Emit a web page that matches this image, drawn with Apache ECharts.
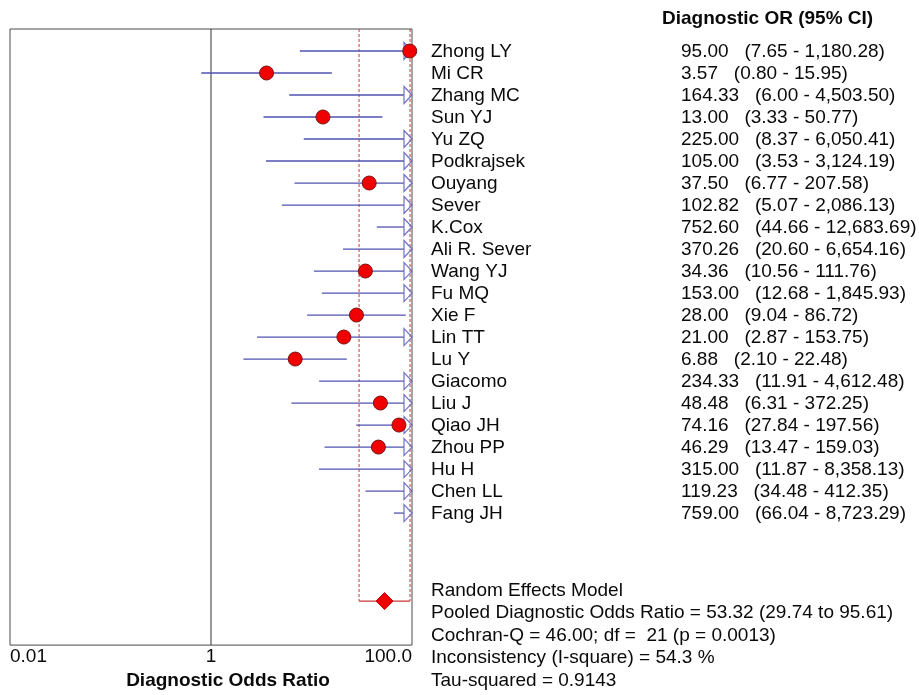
<!DOCTYPE html>
<html>
<head>
<meta charset="utf-8">
<script src="https://cdn.jsdelivr.net/npm/echarts@6/dist/echarts.min.js"></script>
<style>
  html, body { margin: 0; padding: 0; background: #fff; }
  #chart { width: 919px; height: 695px; }
</style>
</head>
<body>
<div id="chart"></div>
<script>
// Study-level diagnostic odds ratios with 95% confidence limits
const studies = ['Zhong LY', 'Mi CR', 'Zhang MC', 'Sun YJ', 'Yu ZQ', 'Podkrajsek', 'Ouyang', 'Sever',
  'K.Cox', 'Ali R. Sever', 'Wang YJ', 'Fu MQ', 'Xie F', 'Lin TT', 'Lu Y', 'Giacomo', 'Liu J',
  'Qiao JH', 'Zhou PP', 'Hu H', 'Chen LL', 'Fang JH'];
const dor = [95.00, 3.57, 164.33, 13.00, 225.00, 105.00, 37.50, 102.82, 752.60, 370.26, 34.36,
  153.00, 28.00, 21.00, 6.88, 234.33, 48.48, 74.16, 46.29, 315.00, 119.23, 759.00];
const ciLow = [7.65, 0.80, 6.00, 3.33, 8.37, 3.53, 6.77, 5.07, 44.66, 20.60, 10.56, 12.68, 9.04,
  2.87, 2.10, 11.91, 6.31, 27.84, 13.47, 11.87, 34.48, 66.04];
const ciHigh = [1180.28, 15.95, 4503.50, 50.77, 6050.41, 3124.19, 207.58, 2086.13, 12683.69,
  6654.16, 111.76, 1845.93, 86.72, 153.75, 22.48, 4612.48, 372.25, 197.56, 159.03, 8358.13,
  412.35, 8723.29];

// Random effects pooled estimate: [OR, lower, upper]
const pooledOR = [53.32, 29.74, 95.61];

// Axis range and labelled ticks
const axisMin = 0.01, axisMax = 100;
const tickValues = [0.01, 1, 100];
const tickLabels = ['0.01', '1', '100.0'];

// Summary statistics printed under the study list
const summaryLines = [
  'Random Effects Model',
  'Pooled Diagnostic Odds Ratio = 53.32 (29.74 to 95.61)',
  'Cochran-Q = 46.00; df =  21 (p = 0.0013)',
  'Inconsistency (I-square) = 54.3 %',
  'Tau-squared = 0.9143'
];

const FONT = '"Liberation Sans", Arial, sans-serif';
const FS = 19;
const TEXT_COLOR = '#0a0a0a';
const LINE_COLOR = '#5252b2';
const ARROW_COLOR = '#7070c6';
const POOLED_ROW = 26;
const ROW_MAX = 28;

function fmt(v) {
  return v.toLocaleString('en-US', { minimumFractionDigits: 2, maximumFractionDigits: 2 });
}

const studyData = studies.map((s, i) => [i + 1, dor[i], ciLow[i], ciHigh[i]]);

function renderStudy(params, api) {
  const idx = params.dataIndex;
  const row = api.value(0);
  const est = api.value(1);
  const lo = api.value(2);
  const hi = api.value(3);
  const y = api.coord([1, row])[1];
  const xLo = api.coord([Math.max(lo, axisMin), row])[0];
  const xMax = api.coord([axisMax, row])[0];
  const truncated = hi > axisMax;
  const xHi = truncated ? xMax - 8 : api.coord([hi, row])[0];
  const children = [];
  children.push({
    type: 'line',
    shape: { x1: xLo, y1: y, x2: xHi, y2: y },
    style: { stroke: LINE_COLOR, lineWidth: 1.3 }
  });
  if (truncated) {
    children.push({
      type: 'polygon',
      shape: { points: [[xMax - 8, y - 8.5], [xMax, y], [xMax - 8, y + 8.5]] },
      style: { stroke: ARROW_COLOR, fill: 'rgba(255,255,255,0)', lineWidth: 1.2 }
    });
  }
  if (est <= axisMax) {
    const c = api.coord([est, row]);
    children.push({
      type: 'circle',
      shape: { cx: c[0], cy: y, r: 7 },
      style: { fill: '#f00000', stroke: '#7a1414', lineWidth: 1 }
    });
  }
  children.push({
    type: 'text',
    style: { text: studies[idx], x: 431, y: y + 1, fill: TEXT_COLOR, fontSize: FS,
      fontFamily: FONT, verticalAlign: 'middle', align: 'left' }
  });
  children.push({
    type: 'text',
    style: { text: fmt(est) + '   (' + fmt(lo) + ' - ' + fmt(hi) + ')', x: 681, y: y + 1,
      fill: TEXT_COLOR, fontSize: FS, fontFamily: FONT, verticalAlign: 'middle', align: 'left' }
  });
  return { type: 'group', children: children };
}

function renderPooled(params, api) {
  const est = api.value(1), lo = api.value(2), hi = api.value(3);
  const row = api.value(0);
  const top = api.coord([1, 0])[1];
  const y = api.coord([1, row])[1];
  const xLo = api.coord([lo, row])[0];
  const xHi = api.coord([hi, row])[0];
  const xc = api.coord([est, row])[0];
  const dash = { stroke: '#c43a3a', lineWidth: 1, lineDash: [3, 2] };
  return {
    type: 'group',
    children: [
      { type: 'line', shape: { x1: xLo, y1: top, x2: xLo, y2: y }, style: dash },
      { type: 'line', shape: { x1: xHi, y1: top, x2: xHi, y2: y }, style: dash },
      { type: 'line', shape: { x1: xLo, y1: y, x2: xHi, y2: y },
        style: { stroke: '#c43a3a', lineWidth: 1.2 } },
      { type: 'polygon',
        shape: { points: [[xc - 8.5, y], [xc, y - 8.5], [xc + 8.5, y], [xc, y + 8.5]] },
        style: { fill: '#f00000', stroke: '#c00000', lineWidth: 1 } }
    ]
  };
}

function renderRefLine(params, api) {
  const x = api.coord([api.value(0), 0])[0];
  const top = api.coord([1, 0])[1];
  const bottom = api.coord([1, ROW_MAX])[1];
  return { type: 'line', shape: { x1: x, y1: top, x2: x, y2: bottom },
    style: { stroke: '#303030', lineWidth: 1 } };
}

const chart = echarts.init(document.getElementById('chart'), null, { renderer: 'canvas' });
chart.setOption({
  animation: false,
  backgroundColor: '#ffffff',
  title: {
    text: 'Diagnostic OR (95% CI)', left: 662, top: 9, padding: 0,
    textStyle: { fontSize: FS, fontWeight: 'bold', fontFamily: FONT, color: TEXT_COLOR }
  },
  grid: { left: 10, top: 29, width: 402, height: 618, show: true,
    borderColor: '#4a4a4a', borderWidth: 1, backgroundColor: 'transparent' },
  xAxis: {
    type: 'log', logBase: 10, min: axisMin, max: axisMax,
    name: 'Diagnostic Odds Ratio', nameLocation: 'middle', nameGap: 24,
    nameTextStyle: { fontSize: FS, fontWeight: 'bold', fontFamily: FONT, color: TEXT_COLOR,
      padding: [0, 0, 0, 34] },
    axisLine: { show: false }, axisTick: { show: false }, splitLine: { show: false },
    axisLabel: {
      margin: 2, fontSize: FS, fontFamily: FONT, color: TEXT_COLOR,
      alignMinLabel: 'left', alignMaxLabel: 'right',
      formatter: function (v) {
        for (let k = 0; k < tickValues.length; k++) {
          if (Math.abs(Math.log10(v) - Math.log10(tickValues[k])) < 1e-6) return tickLabels[k];
        }
        return '';
      }
    }
  },
  yAxis: { type: 'value', min: 0, max: ROW_MAX, inverse: true, show: false },
  graphic: summaryLines.map((t, i) => ({
    type: 'text', left: 431, top: 581 + i * 22.5,
    style: { text: t, fontSize: FS, fontFamily: FONT, fill: TEXT_COLOR }
  })),
  series: [
    { type: 'custom', name: 'ref', renderItem: renderRefLine, data: [[1, 0]], silent: true },
    { type: 'custom', name: 'pooled', renderItem: renderPooled,
      data: [[POOLED_ROW, pooledOR[0], pooledOR[1], pooledOR[2]]],
      encode: { x: 1, y: 0 }, silent: true },
    { type: 'custom', name: 'studies', renderItem: renderStudy, data: studyData,
      encode: { x: 1, y: 0 }, silent: true }
  ]
});
</script>
</body>
</html>
